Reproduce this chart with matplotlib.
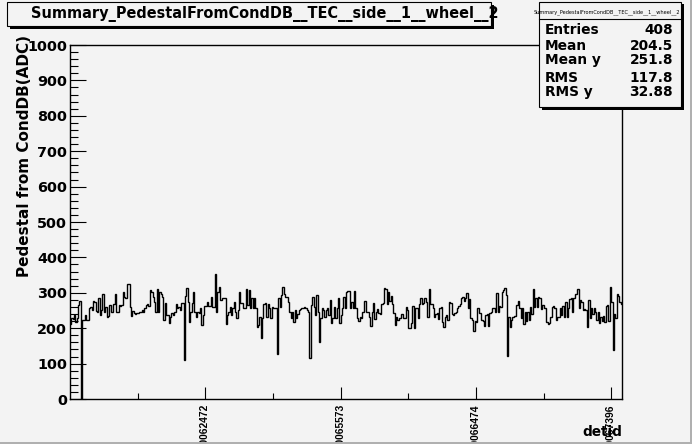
import numpy as np
import matplotlib
matplotlib.use("Agg")
import matplotlib.pyplot as plt
from matplotlib.patches import Rectangle
from matplotlib.lines import Line2D

# one pedestal value per detid bin (408 bins)
pedestal = [
    211, 230, 226, 237, 217, 228, 266, 277, 0, 223, 223, 237, 223, 223, 256, 261, 251,
    277, 273, 249, 247, 286, 237, 251, 296, 247, 261, 233, 235, 266, 247, 247, 267, 298,
    247, 247, 266, 264, 266, 303, 289, 286, 324, 324, 261, 235, 249, 242, 239, 242, 242,
    247, 247, 251, 247, 256, 266, 267, 264, 308, 303, 289, 275, 247, 311, 247, 301, 298,
    289, 223, 270, 237, 237, 214, 233, 242, 237, 247, 267, 256, 261, 251, 270, 270, 110,
    292, 313, 275, 217, 247, 270, 301, 247, 233, 247, 242, 258, 209, 237, 264, 264, 273,
    264, 264, 287, 261, 261, 352, 245, 303, 317, 280, 284, 286, 286, 211, 237, 247, 261,
    237, 256, 273, 247, 228, 251, 301, 270, 270, 256, 258, 311, 266, 308, 256, 284, 256,
    284, 256, 204, 209, 233, 171, 228, 267, 270, 233, 267, 256, 230, 261, 256, 258, 256,
    126, 284, 261, 294, 317, 296, 289, 289, 275, 247, 230, 247, 217, 251, 230, 239, 251,
    254, 256, 258, 261, 256, 251, 247, 117, 266, 287, 261, 237, 294, 247, 162, 228, 258,
    251, 233, 251, 256, 237, 280, 214, 230, 261, 228, 258, 286, 214, 237, 258, 287, 256,
    303, 305, 305, 256, 275, 256, 305, 258, 230, 219, 233, 230, 247, 277, 277, 247, 247,
    233, 207, 247, 270, 226, 247, 254, 242, 239, 267, 270, 313, 311, 267, 301, 277, 292,
    267, 242, 209, 233, 223, 230, 228, 239, 230, 230, 261, 251, 200, 200, 214, 264, 200,
    258, 256, 230, 267, 286, 267, 270, 284, 273, 233, 311, 267, 267, 258, 233, 239, 242,
    226, 258, 261, 218, 204, 233, 237, 223, 273, 270, 239, 237, 242, 245, 256, 264, 267,
    284, 289, 277, 284, 299, 258, 282, 230, 223, 192, 220, 218, 256, 242, 242, 223, 220,
    207, 237, 239, 207, 242, 247, 256, 258, 247, 299, 247, 264, 261, 303, 308, 313, 294,
    122, 233, 204, 223, 233, 235, 235, 266, 277, 256, 230, 256, 211, 247, 220, 245, 223,
    261, 239, 311, 261, 286, 261, 289, 284, 254, 266, 258, 256, 217, 211, 214, 233, 261,
    264, 256, 223, 233, 233, 256, 237, 264, 233, 275, 233, 256, 282, 284, 247, 284, 298,
    298, 311, 256, 280, 275, 251, 254, 251, 204, 280, 228, 258, 239, 258, 247, 223, 247,
    214, 233, 220, 235, 218, 264, 266, 220, 317, 273, 138, 239, 230, 296, 292, 273, 267,
]

label_bins = [100, 200, 300, 400]
label_text = ["470062472", "470065573", "470066474", "470067396"]
minor_bins = [50, 150, 250, 350]

title = "Summary_PedestalFromCondDB__TEC__side__1__wheel__2"
ylabel = "Pedestal from CondDB(ADC)"
xlabel = "detid"
stat_names = ["Entries", "Mean", "Mean y", "RMS", "RMS y"]
stat_values = ["408", "204.5", "251.8", "117.8", "32.88"]

BG = "#f3f3f3"
W, H = 692, 444


def fx(x):
    return x / W


def fy(y):
    return 1 - y / H


fig = plt.figure(figsize=(W / 100, H / 100), dpi=100, facecolor=BG)
plt.rcParams["font.family"] = ["DejaVu Sans"]


def fit(t, px, along="w"):
    r = fig.canvas.get_renderer()
    bb = t.get_window_extent(r)
    size = bb.width if along == "w" else bb.height
    t.set_fontsize(t.get_fontsize() * px / size)


def box(x0, y0, x1, y1, sh=2.5):
    fig.patches.append(Rectangle((fx(x0 + sh), fy(y1 + sh)), fx(x1 - x0), (y1 - y0) / H,
                                 transform=fig.transFigure, facecolor="black", edgecolor="none", zorder=2))
    fig.patches.append(Rectangle((fx(x0), fy(y1)), fx(x1 - x0), (y1 - y0) / H,
                                 transform=fig.transFigure, facecolor=BG, edgecolor="black", lw=0.8, zorder=3))


ax = fig.add_axes([fx(70), fy(399), fx(552), 354 / H])
ax.set_facecolor(BG)
ax.stairs(pedestal, np.arange(len(pedestal) + 1), color="black", lw=1.0, baseline=None)
ax.set_xlim(0, 408)
ax.set_ylim(0, 1000)

ax.set_yticks(range(0, 1001, 100))
ax.set_yticks(range(0, 1001, 20), minor=True)
ax.set_xticks(label_bins)
ax.set_xticklabels(label_text, rotation=90, fontsize=7.4, fontweight="bold", va="top",
                   family="Liberation Sans")
ax.set_xticks(minor_bins, minor=True)
for lab in ax.get_yticklabels():
    lab.set_fontweight("bold")
    lab.set_fontsize(10.4)

ax.tick_params(axis="y", which="major", direction="in", length=11.5, width=0.8, pad=2.2)
ax.tick_params(axis="y", which="minor", direction="in", length=5.8, width=0.8)
ax.tick_params(axis="x", which="major", direction="in", length=8.6, width=0.8, pad=3.6)
ax.tick_params(axis="x", which="minor", direction="in", length=4.3, width=0.8)
for s in ax.spines.values():
    s.set_linewidth(1.0)

# y title, aligned at the top end like ROOT
yt = fig.text(fx(24.5), fy(35), ylabel, rotation=90, ha="center", va="top", fontweight="bold", fontsize=12)
fit(yt, 242, along="h")

xt = fig.text(fx(622), fy(435.5), xlabel, ha="right", va="baseline", fontweight="bold", fontsize=12)
fit(xt, 40)

# title box
box(7, 2.5, 491, 26.5)
tt = fig.text(fx(31), fy(18.3), title, ha="left", va="baseline", fontweight="bold", fontsize=11, zorder=4)
fit(tt, 466)

# stats box
box(539, 2, 681, 107.5)
fig.text(fx(607), fy(11.7), title, ha="center", va="center", fontsize=3.6, zorder=4)
fig.lines.append(Line2D([fx(539), fx(681)], [fy(19), fy(19)], transform=fig.transFigure,
                        color="black", lw=0.8, zorder=4))
rows_y = [34.3, 50, 64.3, 82.3, 95.7]
for name, val, yy in zip(stat_names, stat_values, rows_y):
    fig.text(fx(545), fy(yy), name, ha="left", va="baseline", fontweight="bold", fontsize=9.9, zorder=4)
    fig.text(fx(673), fy(yy), val, ha="right", va="baseline", fontweight="bold", fontsize=9.9, zorder=4)

# canvas border (darker bottom/right edge)
fig.patches.append(Rectangle((0, 0), 1, 2.5 / H, transform=fig.transFigure, facecolor="#b0b0b0", edgecolor="none"))
fig.patches.append(Rectangle((1 - 2.5 / W, 0), 2.5 / W, 1, transform=fig.transFigure, facecolor="#b0b0b0", edgecolor="none"))

fig.savefig("out.png", dpi=100, facecolor=BG)
